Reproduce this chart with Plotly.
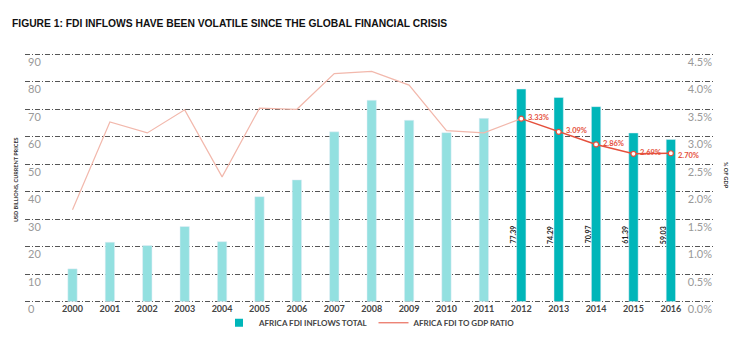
import plotly.graph_objects as go

years = [str(y) for y in range(2000, 2017)]
fdi_inflows = [11.9, 21.6, 20.4, 27.3, 21.8, 38.2, 44.3, 61.8, 73.3, 66.0,
               61.5, 66.7, 77.39, 74.29, 70.97, 61.39, 59.03]
gdp_ratio = [1.67, 3.27, 3.07, 3.49, 2.27, 3.52, 3.50, 4.15, 4.19, 3.94,
             3.11, 3.07, 3.33, 3.09, 2.86, 2.69, 2.70]
highlight_from = 12  # index of 2012
y_ticks = list(range(0, 100, 10))
y2_ticks = [i * 0.5 for i in range(10)]

LIGHT = "#93E0E0"
DARK = "#00B6B9"
LINE_LIGHT = "#F2B8AC"
LINE_DARK = "#E5503C"
FONT = "Lato"

bar_colors = [DARK if i >= highlight_from else LIGHT for i in range(len(years))]
idx = list(range(len(years)))

# geometry (px)
W, H = 736, 339
PL, PR = 25, 715
Y_LO, Y_HI = -10, 90.5
PX_PER = 2.75
ZERO_PX = 301.7
top_px = ZERO_PX - Y_HI * PX_PER
bot_px = ZERO_PX - Y_LO * PX_PER
plot_h = bot_px - top_px

fig = go.Figure()
fig.add_trace(go.Bar(x=idx, y=fdi_inflows, marker_color=bar_colors, width=0.25,
                     showlegend=False, yaxis="y"))
fig.add_trace(go.Scatter(x=idx[:highlight_from + 1], y=gdp_ratio[:highlight_from + 1],
                         mode="lines", line=dict(color=LINE_LIGHT, width=1.2),
                         showlegend=False, yaxis="y2"))
fig.add_trace(go.Scatter(x=idx[highlight_from:], y=gdp_ratio[highlight_from:],
                         mode="lines+markers", line=dict(color=LINE_DARK, width=1.5),
                         marker=dict(symbol="circle", size=5, color="white",
                                     line=dict(color=LINE_DARK, width=1.2)),
                         showlegend=False, yaxis="y2"))
# legend entries
fig.add_trace(go.Scatter(x=[None], y=[None], mode="markers", name="AFRICA FDI INFLOWS TOTAL",
                         marker=dict(symbol="square", size=8, color=DARK)))
fig.add_trace(go.Scatter(x=[None], y=[None], mode="lines", name="AFRICA FDI TO GDP RATIO",
                         line=dict(color=LINE_DARK, width=1)))

annotations = []
for i in range(highlight_from, len(years)):
    annotations.append(dict(x=i, y=24.3, xref="x", yref="y", text=f"<b>{fdi_inflows[i]:.2f}</b>",
                            textangle=-90, showarrow=False, xshift=-8.5,
                            font=dict(family=FONT, size=7, color="#222")))
    annotations.append(dict(x=i, y=gdp_ratio[i], xref="x", yref="y2",
                            text=f"<b>{gdp_ratio[i]:.2f}%</b>", showarrow=False,
                            xanchor="left", xshift=5, yshift=1 if i < len(years) - 1 else -2,
                            font=dict(family=FONT, size=7.5, color=LINE_DARK)))

annotations.append(dict(x=(15 - PL) / (PR - PL), y=(bot_px - 180) / plot_h, xref="paper", yref="paper",
                        xanchor="center", yanchor="middle", xshift=1,
                        text="<b>USD BILLIONS, CURRENT PRICES</b>", textangle=-90, showarrow=False,
                        font=dict(family=FONT, size=5.5, color="#333")))
annotations.append(dict(x=(726 - PL) / (PR - PL), y=(bot_px - 175) / plot_h, xref="paper", yref="paper",
                        xanchor="center", yanchor="middle",
                        text="<b>% OF GDP</b>", textangle=90, showarrow=False,
                        font=dict(family=FONT, size=5.5, color="#333")))

fig.update_layout(
    width=W, height=H,
    margin=dict(l=PL, r=W - PR, t=top_px, b=H - bot_px, autoexpand=False),
    paper_bgcolor="white", plot_bgcolor="white",
    title=dict(text="<b>FIGURE 1: FDI INFLOWS HAVE BEEN VOLATILE SINCE THE GLOBAL FINANCIAL CRISIS</b>",
               x=12 / W, xanchor="left", y=1 - 23 / H, yanchor="middle",
               font=dict(family="Liberation Sans", size=10.3, color="#111")),
    xaxis=dict(range=[-1.27, 17.18], tickvals=idx, ticktext=years, showgrid=False,
               zeroline=False, showline=False, ticks="",
               anchor="free", position=(bot_px - ZERO_PX) / plot_h,
               tickfont=dict(family=FONT, size=9, color="#444", weight="bold")),
    yaxis=dict(range=[Y_LO, Y_HI], tickvals=y_ticks, showgrid=True, gridcolor="#555",
               griddash="5px,2px,1px,2px", gridwidth=1, zeroline=False,
               ticklabelposition="inside bottom", ticks="",
               tickfont=dict(family=FONT, size=11, color="#999")),
    yaxis2=dict(range=[Y_LO / 20, Y_HI / 20], tickvals=y2_ticks,
                ticktext=[f"{v:.1f}%" for v in y2_ticks],
                overlaying="y", side="right", showgrid=False, zeroline=False,
                ticklabelposition="inside bottom", ticks="",
                tickfont=dict(family=FONT, size=11, color="#999")),
    legend=dict(orientation="h", x=(370 - PL) / (PR - PL), xanchor="center",
                y=(bot_px - 323) / plot_h, yanchor="middle", bgcolor="rgba(0,0,0,0)",
                font=dict(family=FONT, size=8, color="#444", weight="bold")),
    annotations=annotations,
)

fig.write_html("out.html")
